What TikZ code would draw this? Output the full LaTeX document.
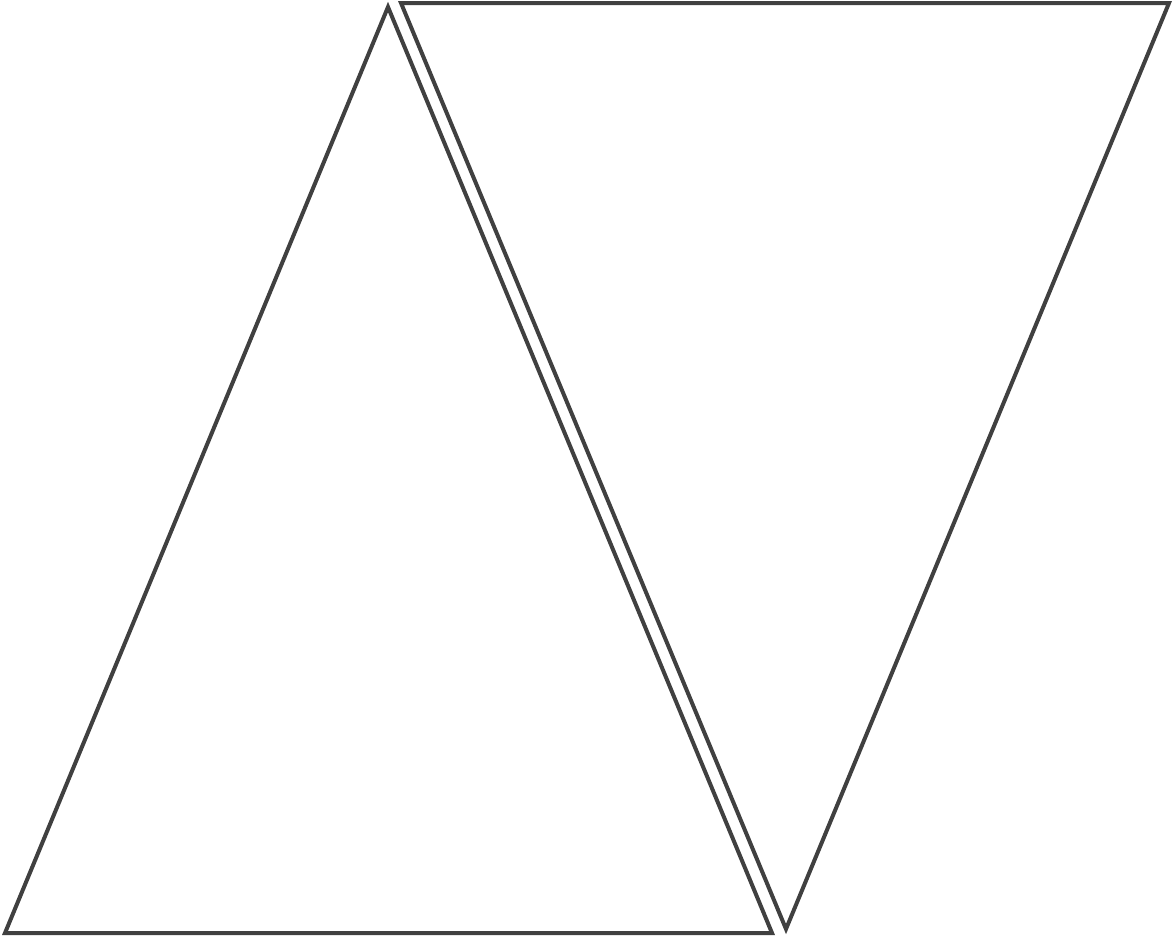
\documentclass[tikz,border=0pt]{standalone}
\begin{document}
\begin{tikzpicture}[x=1pt,y=-1pt,
  tri/.style={draw=black!75, line width=4pt, line join=miter, miter limit=20}]
\useasboundingbox (0,0) rectangle (1175,938);
\coordinate (A) at (388,7);
\coordinate (B) at (5,933);
\coordinate (C) at (772,933);
\coordinate (D) at (401,3);
\coordinate (E) at (1169,3);
\coordinate (F) at (786,929);
\draw[tri] (A) -- (B) -- (C) -- cycle;
\draw[tri] (D) -- (E) -- (F) -- cycle;
\end{tikzpicture}
\end{document}
